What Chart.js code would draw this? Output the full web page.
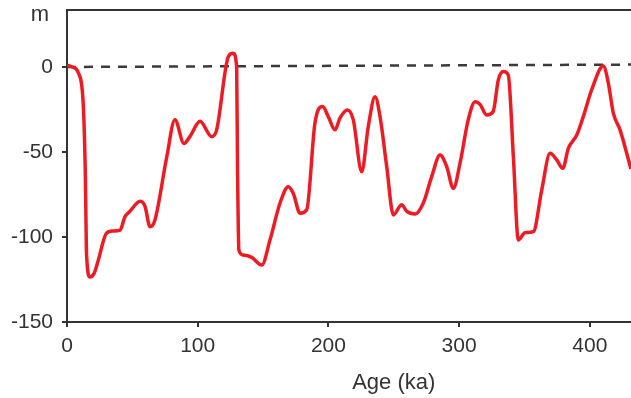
<!DOCTYPE html>
<html>
<head>
<meta charset="utf-8">
<script src="https://cdn.jsdelivr.net/npm/chart.js@4/dist/chart.umd.min.js"></script>
<style>
  html, body { margin: 0; padding: 0; background: #fff; }
  #wrap { width: 631px; height: 398px; }
</style>
</head>
<body>
<div id="wrap"><canvas id="seaChart"></canvas></div>
<script>
// Sea level curve (age in ka, level in m)
const ages = [0, 4, 9, 12.5, 14, 15, 17.6, 21, 24, 30, 35, 40.5, 44.4, 48, 56, 59.7, 63.5, 67.3,
  76.3, 82.6, 89.5, 94, 101.8, 110.7, 114.5, 123.4, 127.2, 129.8, 130.5, 131.5, 134.9, 141.3,
  149, 155.3, 163, 169.3, 173.1, 178.3, 183.4, 189.7, 195.6, 199.9, 205, 208.9, 214.5, 219,
  225.5, 230.5, 235.7, 239.5, 244.6, 249.7, 256, 260, 266.3, 272.6, 279, 285.4, 290.5, 295.6,
  300.7, 307, 312.2, 316, 321, 326, 330, 333.8, 337.6, 341.5, 345.3, 350.4, 356.8, 363.2,
  369.6, 374.7, 379.3, 383.6, 390, 395, 401.4, 410.3, 414.2, 418, 423.1, 431.5];
const seaLevel = [1, 0, -4, -23, -62, -111, -123.5, -121, -113.5, -98, -96.5, -96, -88, -85, -79, -82, -94, -90,
  -53, -31, -45, -41, -32, -41, -37, 6, 8, 0, -62, -107.6, -110.6, -112,
  -116.5, -101.8, -80, -70.4, -74.3, -86, -84, -33, -23.3, -29.2, -37, -30, -25.3, -31,
  -61.6, -35, -17.5, -29.2, -58.6, -87, -81, -85, -86.5, -80, -64.5, -51.8, -58.6, -71.4,
  -56.6, -31, -20.4, -22, -28.2, -26.3, -7.6, -2.7, -4.7, -52.8, -101.8, -97.5, -96.9, -72.4,
  -50.8, -54.7, -59.6, -47.8, -40, -29.2, -13.5, 0.5, -9.6, -27.2, -37, -60];

// present-day reference (dashed)
const refAges = [0, 431.5];
const refLevel = [0, 1.4];

const xTicks = [0, 100, 200, 300, 400];
const yTicks = [-150, -100, -50, 0];

const axisColor = "#333";
const fontFamily = "'Liberation Sans', Arial, sans-serif";

// top frame line, "m" unit and x title
const extrasPlugin = {
  id: "extras",
  afterDraw(chart) {
    const ctx = chart.ctx;
    const area = chart.chartArea;
    const xs = chart.scales.x;
    ctx.save();
    ctx.strokeStyle = axisColor;
    ctx.lineWidth = 2;
    ctx.beginPath();
    ctx.moveTo(area.left - 1, area.top);
    ctx.lineTo(area.right, area.top);
    ctx.stroke();

    ctx.fillStyle = axisColor;
    ctx.font = "22px " + fontFamily;
    ctx.textAlign = "center";
    ctx.textBaseline = "middle";
    ctx.fillText("m", 40, area.top + 5);
    ctx.fillText("Age (ka)", xs.getPixelForValue(250), 383);
    ctx.restore();
  },
};

const ctx = document.getElementById("seaChart");
new Chart(ctx, {
  type: "line",
  data: {
    datasets: [
      {
        label: "Sea level",
        data: ages.map((a, i) => ({ x: a, y: seaLevel[i] })),
        borderColor: "#ec1c24",
        borderWidth: 3.5,
        pointRadius: 0,
        cubicInterpolationMode: "monotone",
        fill: false,
      },
      {
        label: "Present",
        data: refAges.map((a, i) => ({ x: a, y: refLevel[i] })),
        borderColor: "#3a3a3a",
        borderWidth: 2.5,
        borderDash: [9, 8],
        pointRadius: 0,
        fill: false,
      },
    ],
  },
  options: {
    responsive: true,
    maintainAspectRatio: false,
    animation: false,
    layout: { padding: 0 },
    plugins: {
      legend: { display: false },
      tooltip: { enabled: false },
    },
    scales: {
      x: {
        type: "linear",
        min: 0,
        max: 431.5,
        afterFit: (s) => { s.height = 76; },
        afterBuildTicks: (s) => { s.ticks = xTicks.map((v) => ({ value: v })); },
        ticks: {
          color: axisColor,
          font: { family: fontFamily, size: 21 },
          padding: 7,
          maxRotation: 0,
        },
        grid: {
          drawOnChartArea: false,
          tickLength: 5,
          color: axisColor,
          lineWidth: 2,
        },
        border: { color: axisColor, width: 2 },
      },
      y: {
        min: -150,
        max: 33.5,
        afterFit: (s) => { s.width = 67; s.paddingTop = 10; },
        afterBuildTicks: (s) => { s.ticks = yTicks.map((v) => ({ value: v })); },
        ticks: {
          color: axisColor,
          font: { family: fontFamily, size: 21 },
          padding: 9,
        },
        grid: {
          drawOnChartArea: false,
          tickLength: 5,
          color: axisColor,
          lineWidth: 2,
        },
        border: { color: axisColor, width: 2 },
      },
    },
  },
  plugins: [extrasPlugin],
});
</script>
</body>
</html>
